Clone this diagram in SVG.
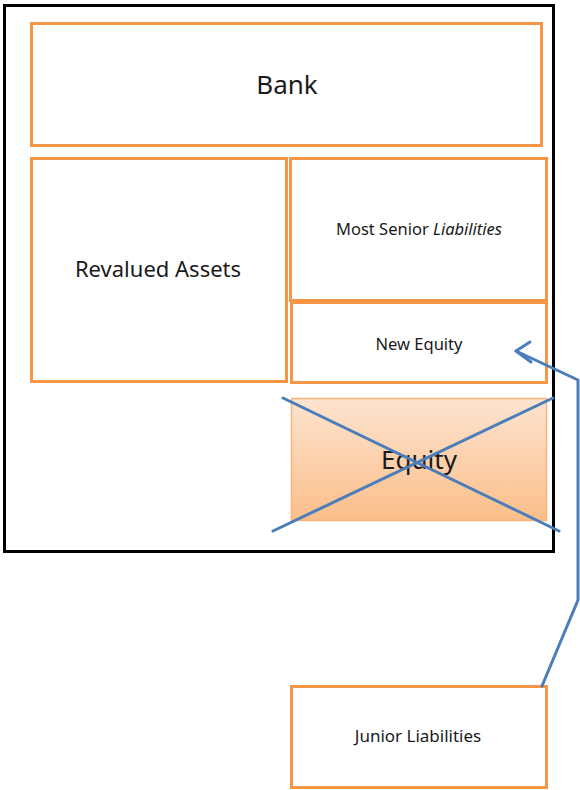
<svg xmlns="http://www.w3.org/2000/svg" width="580" height="790" viewBox="0 0 580 790">
<style>
.box{fill:#ffffff;stroke:#f79646;stroke-width:3}
.t{font-family:"Noto Sans","Open Sans",sans-serif;fill:#1a1a1a;text-anchor:middle}
.conn{fill:none;stroke:#4a7ebb;stroke-width:3;stroke-linecap:round;stroke-linejoin:round}
</style>
<defs>
<linearGradient id="eqg" x1="0" y1="0" x2="0" y2="1">
<stop offset="0" stop-color="#fde4d0"/>
<stop offset="1" stop-color="#fbbe8a"/>
</linearGradient>
</defs>
<rect id="frame" x="4.5" y="5.5" width="549" height="546" fill="#ffffff" stroke="#000000" stroke-width="3"/>
<g id="bank"><rect class="box" x="31.5" y="23.5" width="510" height="122"/><text class="t" x="287" y="94" font-size="26">Bank</text></g>
<g id="assets"><rect class="box" x="31.5" y="158.5" width="255" height="223"/><text class="t" x="158" y="277" font-size="22">Revalued Assets</text></g>
<g id="senior"><rect class="box" x="290.5" y="158.5" width="256" height="142"/><text class="t" x="419" y="234.5" font-size="16.5">Most Senior <tspan font-style="italic">Liabilities</tspan></text></g>
<g id="newequity"><rect class="box" x="291.5" y="302.5" width="255" height="80"/><text class="t" x="419" y="349.5" font-size="16.5">New Equity</text></g>
<g id="equity"><rect x="291.5" y="398.5" width="255" height="122" fill="url(#eqg)" stroke="#f9b27a" stroke-width="1.5"/><text class="t" x="419" y="469" font-size="26">Equity</text></g>
<g id="junior"><rect class="box" x="291.5" y="686.5" width="255" height="101"/><text class="t" x="418" y="742" font-size="17">Junior Liabilities</text></g>
<g id="connectors">
<line class="conn" x1="283" y1="398" x2="559" y2="531"/>
<line class="conn" x1="273" y1="531" x2="553" y2="398"/>
<path class="conn" d="M542,686 L578,600 L578,380 L516,351"/>
<path class="conn" d="M530,342 L516,351 L531,362"/>
</g>
</svg>
